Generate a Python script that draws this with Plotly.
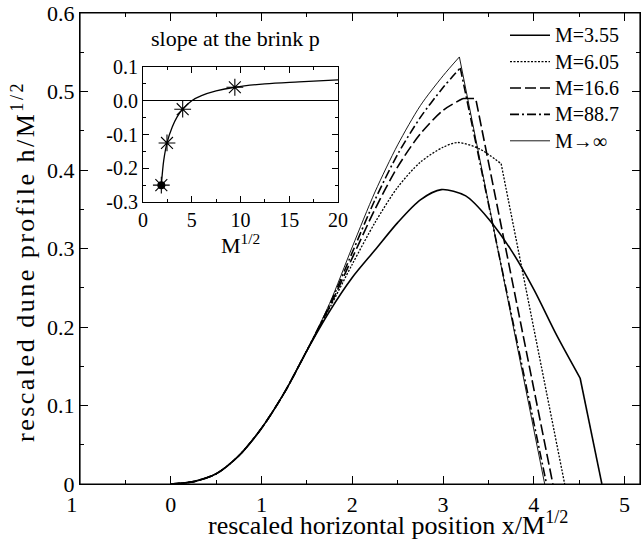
import plotly.graph_objects as go

# ---- data ----
rise_x = [0.0, 0.25, 0.5, 0.75, 1.0, 1.25, 1.5]
rise_y = [0.0, 0.003, 0.013, 0.036, 0.071, 0.116, 0.170]

# each curve after the common rise (up to its brink), then the straight slip face
m355_x = [1.75, 2.0, 2.25, 2.5, 2.75, 2.98, 3.25, 3.5, 3.75, 4.0, 4.25, 4.51]
m355_y = [0.220, 0.263, 0.298, 0.333, 0.362, 0.375, 0.367, 0.338, 0.298, 0.248, 0.19, 0.135]
m355_face_x = [4.51, 4.75]
m355_face_y = [0.135, 0.0]

m605_x = [1.75, 2.0, 2.25, 2.5, 2.75, 3.0, 3.16, 3.4, 3.64]
m605_y = [0.224, 0.280, 0.333, 0.378, 0.410, 0.429, 0.435, 0.427, 0.408]
m605_face_x = [3.64, 4.34]
m605_face_y = [0.408, 0.0]

m166_x = [1.75, 2.0, 2.25, 2.5, 2.75, 3.0, 3.22]
m166_y = [0.226, 0.288, 0.350, 0.404, 0.446, 0.476, 0.491]
m166_face_x = [3.22, 3.36, 4.21]
m166_face_y = [0.491, 0.491, 0.0]

m887_x = [1.75, 2.0, 2.25, 2.5, 2.75, 3.0, 3.19]
m887_y = [0.228, 0.295, 0.362, 0.42, 0.467, 0.505, 0.530]
m887_face_x = [3.19, 4.14]
m887_face_y = [0.530, 0.0]

minf_x = [1.75, 2.0, 2.25, 2.5, 2.75, 3.0, 3.18]
minf_y = [0.230, 0.302, 0.372, 0.432, 0.482, 0.52, 0.544]
minf_face_x = [3.18, 4.12]
minf_face_y = [0.544, 0.0]

labels = ["M=3.55", "M=6.05", "M=16.6", "M=88.7", "M\u2192\u221e"]

# inset: slope at the brink
inset_curve_x = [1.88, 2.0, 2.13, 2.46, 3.0, 3.5, 4.07, 5.0, 6.0, 7.5, 9.42, 12.5, 16.0, 20.0]
inset_curve_y = [-0.25, -0.21, -0.176, -0.125, -0.078, -0.048, -0.025, 0.0, 0.015, 0.029, 0.040, 0.050, 0.056, 0.062]
inset_pts_x = [1.88, 2.46, 4.07, 9.42]
inset_pts_y = [-0.25, -0.125, -0.025, 0.04]

main_xticks = [-1, 0, 1, 2, 3, 4, 5]
main_xticktext = ["1\u00a0\u00a0\u00a0", "0", "1", "2", "3", "4", "5"]
main_yticks = [0, 0.1, 0.2, 0.3, 0.4, 0.5, 0.6]
main_yticktext = ["0", "0.1", "0.2", "0.3", "0.4", "0.5", "0.6"]
inset_xticks = [0, 5, 10, 15, 20]
inset_yticks = [-0.3, -0.2, -0.1, 0.0, 0.1]
inset_yticktext = ["-0.3", "-0.2", "-0.1", "0.0", "0.1"]

FONT = "Liberation Serif"
OFF = 0  # page body margin removed by the post script below
L, R, T, B = 80, 4, 13, 60
W, H = 644, 544
PW, PH = W - L - R, H - T - B


def px(xs):
    """screen x pixel -> paper x"""
    return (xs - OFF - L) / PW


def py(ys):
    """screen y pixel -> paper y"""
    return (H - B - (ys - OFF)) / PH


fig = go.Figure()

series = [
    (m355_x, m355_y, m355_face_x, m355_face_y, dict(color="black", width=1.6, dash="solid")),
    (m605_x, m605_y, m605_face_x, m605_face_y, dict(color="black", width=1.3, dash="2px,1.5px")),
    (m166_x, m166_y, m166_face_x, m166_face_y, dict(color="black", width=1.6, dash="11px,4px")),
    (m887_x, m887_y, m887_face_x, m887_face_y, dict(color="black", width=1.6, dash="9px,3px,2px,3px")),
    (minf_x, minf_y, minf_face_x, minf_face_y, dict(color="black", width=0.9, dash="solid")),
]
for i, ((sx, sy, fx, fy, ln), name) in enumerate(zip(series, labels)):
    fig.add_trace(go.Scatter(x=rise_x + sx, y=rise_y + sy, mode="lines",
                             line=dict(ln, shape="spline", smoothing=0.8),
                             name="<span style='font-size:20px'>%s</span>" % name,
                             legendgroup=name, legendrank=i,
                             xaxis="x", yaxis="y"))
    fig.add_trace(go.Scatter(x=fx, y=fy, mode="lines", line=ln, name=name,
                             legendgroup=name, showlegend=False, xaxis="x", yaxis="y"))

fig.add_trace(go.Scatter(x=inset_curve_x, y=inset_curve_y, mode="lines",
                         line=dict(color="black", width=1.3, shape="spline"),
                         showlegend=False, xaxis="x2", yaxis="y2"))
fig.add_trace(go.Scatter(x=inset_pts_x[:1], y=inset_pts_y[:1], mode="markers",
                         marker=dict(symbol="circle", size=8, color="black"),
                         showlegend=False, xaxis="x2", yaxis="y2"))
fig.add_trace(go.Scatter(x=inset_pts_x, y=inset_pts_y, mode="markers",
                         marker=dict(symbol="asterisk-open", size=14, color="black",
                                     line=dict(color="black", width=1.1)),
                         showlegend=False, xaxis="x2", yaxis="y2"))

axis_common = dict(showgrid=False, zeroline=False, showline=True, linecolor="black",
                   linewidth=1.2, mirror="allticks", ticks="inside", tickcolor="black",
                   tickwidth=1, automargin=False)

fig.update_layout(
    width=W, height=H,
    margin=dict(l=L, r=R, t=T, b=B, autoexpand=False),
    paper_bgcolor="white", plot_bgcolor="white",
    font=dict(family=FONT, color="black", size=20),
    showlegend=True,
    legend=dict(x=px(505), y=py(17), xanchor="left", yanchor="top",
                bgcolor="rgba(0,0,0,0)", font=dict(family=FONT, size=18),
                tracegroupgap=0, itemwidth=40),
    xaxis=dict(axis_common, range=[-1, 5.17], tickvals=main_xticks, ticktext=main_xticktext,
               ticklen=8, minor=dict(dtick=0.5, ticks="inside", ticklen=4, tickcolor="black"),
               tickfont=dict(size=22)),
    yaxis=dict(axis_common, range=[0, 0.6], tickvals=main_yticks, ticktext=main_yticktext,
               ticklen=8, minor=dict(dtick=0.05, ticks="inside", ticklen=4, tickcolor="black"),
               tickfont=dict(size=22)),
    xaxis2=dict(axis_common, domain=[px(143), px(338)], anchor="y2", range=[0, 20],
                tickvals=inset_xticks, ticklen=6,
                minor=dict(dtick=2.5, ticks="inside", ticklen=3, tickcolor="black"),
                tickfont=dict(size=20)),
    yaxis2=dict(axis_common, domain=[py(202), py(67)], anchor="x2", range=[-0.3, 0.1],
                tickvals=inset_yticks, ticktext=inset_yticktext, ticklen=6,
                minor=dict(dtick=0.05, ticks="inside", ticklen=3, tickcolor="black"),
                zeroline=True, zerolinecolor="black", zerolinewidth=1.3,
                tickfont=dict(size=20)),
    shapes=[dict(type="rect", xref="paper", yref="paper", x0=0, x1=1, y0=0, y1=1,
                 line=dict(color="black", width=1.2), fillcolor="rgba(0,0,0,0)", layer="above")],
    annotations=[
        dict(text="slope at the brink p", xref="paper", yref="paper",
             x=px(235), y=py(39), xanchor="center", yanchor="middle",
             showarrow=False, font=dict(family=FONT, size=22)),
        dict(text="M<sup>1/2</sup>", xref="paper", yref="paper",
             x=px(240), y=py(244), xanchor="center", yanchor="middle",
             showarrow=False, font=dict(family=FONT, size=22)),
        dict(text="rescaled horizontal position x/M<sup>1/2</sup>", xref="paper", yref="paper",
             x=px(388), y=py(523), xanchor="center", yanchor="middle",
             showarrow=False, font=dict(family=FONT, size=26)),
        dict(text="<span style='letter-spacing:2.5px'>rescaled dune profile h/M<sup>1/2</sup></span>",
             xref="paper", yref="paper",
             x=px(23), y=py(262), xanchor="center", yanchor="middle", textangle=-90,
             showarrow=False, font=dict(family=FONT, size=26)),
    ],
)

fig.write_html("out.html",
               config={"displayModeBar": False},
               post_script="document.body.style.margin='0';document.body.style.overflow='hidden';")
